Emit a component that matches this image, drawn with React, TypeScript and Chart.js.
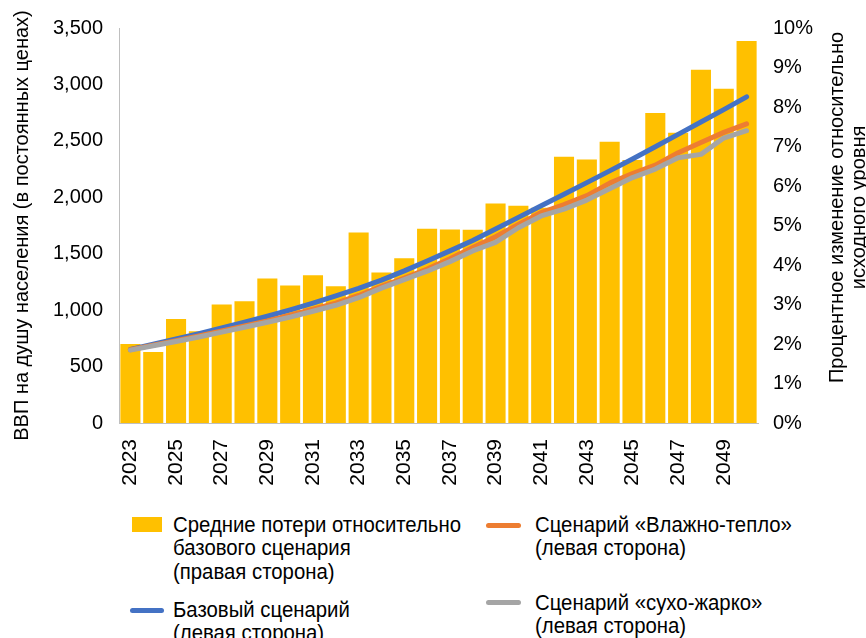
import React, { useEffect, useRef } from "react";
import { Chart, registerables } from "chart.js";

Chart.register(...registerables);

const years = [
  "2023", "2024", "2025", "2026", "2027", "2028", "2029", "2030", "2031", "2032",
  "2033", "2034", "2035", "2036", "2037", "2038", "2039", "2040", "2041", "2042",
  "2043", "2044", "2045", "2046", "2047", "2048", "2049", "2050",
];

// Average losses relative to baseline, % (right axis)
const avgLossPct = [
  2.0, 1.8, 2.63, 2.32, 3.0, 3.08, 3.66, 3.48, 3.74, 3.46,
  4.82, 3.81, 4.17, 4.92, 4.9, 4.89, 5.56, 5.5, 5.45, 6.74,
  6.67, 7.12, 6.66, 7.85, 7.35, 8.94, 8.46, 9.67,
];

// GDP per capita (left axis)
const baseScenario = [
  652, 698, 745, 792, 842, 893, 946, 1002, 1062, 1126,
  1193, 1266, 1348, 1436, 1525, 1617, 1718, 1822, 1925, 2027,
  2130, 2234, 2340, 2448, 2557, 2667, 2777, 2890,
];
const wetWarmScenario = [
  650, 690, 730, 772, 815, 860, 905, 955, 1008, 1062,
  1130, 1210, 1285, 1365, 1455, 1555, 1650, 1760, 1865, 1935,
  2015, 2125, 2210, 2285, 2395, 2485, 2575, 2650,
];
const dryHotScenario = [
  646, 685, 722, 762, 805, 848, 893, 938, 990, 1043,
  1110, 1195, 1270, 1345, 1430, 1525, 1600, 1730, 1835, 1895,
  1975, 2075, 2175, 2250, 2350, 2380, 2525, 2590,
];

const leftAxisTitle = "ВВП на душу населения (в постоянных ценах)";
const rightAxisTitle = ["Процентное изменение относительно", "исходного уровня"];

const legendBars = ["Средние потери относительно", "базового сценария", "(правая сторона)"];
const legendBase = ["Базовый сценарий", "(левая сторона)"];
const legendWet = ["Сценарий «Влажно-тепло»", "(левая сторона)"];
const legendDry = ["Сценарий «сухо-жарко»", "(левая сторона)"];

const COLORS = {
  bar: "#FFC000",
  base: "#4472C4",
  wet: "#ED7D31",
  dry: "#A5A5A5",
  axis: "#BFBFBF",
  text: "#000000",
};

const FONT_FAMILY = "'Liberation Sans', Arial, sans-serif";

const rightTitlePlugin = {
  id: "rightTitle",
  afterDraw(chart: any) {
    const ctx = chart.ctx;
    const cy = (chart.chartArea.top + chart.chartArea.bottom) / 2 - 18;
    ctx.save();
    ctx.font = `20px ${FONT_FAMILY}`;
    ctx.fillStyle = COLORS.text;
    ctx.textAlign = "center";
    ctx.textBaseline = "middle";
    ctx.translate(chart.width - 29, cy);
    ctx.rotate(-Math.PI / 2);
    rightAxisTitle.forEach((line, i) => {
      ctx.fillText(line, 0, i * 22);
    });
    ctx.restore();
  },
};

function LegendText({ lines, left, top }: { lines: string[]; left: number; top: number }) {
  return (
    <div
      style={{
        position: "absolute",
        left,
        top,
        fontFamily: FONT_FAMILY,
        fontSize: 22,
        lineHeight: "23.4px",
        color: COLORS.text,
        whiteSpace: "nowrap",
        transform: "scaleX(0.925)",
        transformOrigin: "left top",
      }}
    >
      {lines.map((l, i) => (
        <div key={i}>{l}</div>
      ))}
    </div>
  );
}

export default function App() {
  const canvasRef = useRef<HTMLCanvasElement | null>(null);

  useEffect(() => {
    if (!canvasRef.current) return;
    const tickFont = { family: FONT_FAMILY, size: 20 };
    const chart = new Chart(canvasRef.current, {
      type: "bar",
      data: {
        labels: years,
        datasets: [
          {
            type: "line",
            label: legendBase.join(" "),
            data: baseScenario,
            borderColor: COLORS.base,
            backgroundColor: COLORS.base,
            borderWidth: 5,
            pointRadius: 0,
            tension: 0,
            borderCapStyle: "round",
            borderJoinStyle: "round",
            yAxisID: "y",
            order: 3,
            fill: false,
          },
          {
            type: "line",
            label: legendWet.join(" "),
            data: wetWarmScenario,
            borderColor: COLORS.wet,
            backgroundColor: COLORS.wet,
            borderWidth: 5,
            pointRadius: 0,
            tension: 0,
            borderCapStyle: "round",
            borderJoinStyle: "round",
            yAxisID: "y",
            order: 2,
            fill: false,
          },
          {
            type: "line",
            label: legendDry.join(" "),
            data: dryHotScenario,
            borderColor: COLORS.dry,
            backgroundColor: COLORS.dry,
            borderWidth: 5,
            pointRadius: 0,
            tension: 0,
            borderCapStyle: "round",
            borderJoinStyle: "round",
            yAxisID: "y",
            order: 1,
            fill: false,
          },
          {
            type: "bar",
            label: legendBars.join(" "),
            data: avgLossPct,
            backgroundColor: COLORS.bar,
            borderWidth: 0,
            yAxisID: "y1",
            order: 4,
            categoryPercentage: 1.0,
            barPercentage: 0.88,
          },
        ],
      } as any,
      options: {
        responsive: false,
        animation: false,
        layout: { padding: { top: 16, left: 0, right: 0, bottom: 0 } },
        plugins: {
          legend: { display: false },
          tooltip: { enabled: false },
        },
        scales: {
          x: {
            grid: { display: false, drawTicks: false },
            border: { display: true, color: COLORS.axis, width: 1 },
            ticks: {
              autoSkip: false,
              maxRotation: 90,
              minRotation: 90,
              padding: 16,
              color: COLORS.text,
              font: { family: FONT_FAMILY, size: 21 },
              callback: (_v: any, i: number) => (i % 2 === 0 ? years[i] : ""),
            },
            afterFit: (s: any) => {
              s.height = 77;
            },
          },
          y: {
            position: "left",
            min: 0,
            max: 3500,
            grid: { display: false, drawTicks: false },
            border: { display: true, color: COLORS.axis, width: 1 },
            ticks: {
              stepSize: 500,
              padding: 16,
              color: COLORS.text,
              font: tickFont,
              callback: (v: any) => Number(v).toLocaleString("en-US"),
            },
            title: {
              display: true,
              text: leftAxisTitle,
              color: COLORS.text,
              font: { family: FONT_FAMILY, size: 20 },
              padding: { top: 10, bottom: 0 },
            },
            afterFit: (s: any) => {
              s.width = 119;
            },
          },
          y1: {
            position: "right",
            min: 0,
            max: 10,
            grid: { display: false, drawTicks: false },
            border: { display: false },
            ticks: {
              stepSize: 1,
              padding: 15,
              color: COLORS.text,
              font: tickFont,
              callback: (v: any) => `${v}%`,
            },
            afterFit: (s: any) => {
              s.width = 108;
            },
          },
        },
      } as any,
      plugins: [rightTitlePlugin],
    });
    return () => chart.destroy();
  }, []);

  return (
    <div
      style={{
        position: "absolute",
        left: 0,
        top: 0,
        width: 866,
        height: 638,
        background: "#ffffff",
        overflow: "hidden",
      }}
    >
      <canvas
        ref={canvasRef}
        width={866}
        height={500}
        style={{ position: "absolute", left: 0, top: 0, width: 866, height: 500 }}
      />
      {/* Legend */}
      <div style={{ position: "absolute", left: 132, top: 517, width: 30, height: 15, background: COLORS.bar }} />
      <LegendText lines={legendBars} left={173} top={513} />

      <div style={{ position: "absolute", left: 486, top: 522.5, width: 35, height: 5, borderRadius: 2.5, background: COLORS.wet }} />
      <LegendText lines={legendWet} left={535} top={513} />

      <div style={{ position: "absolute", left: 130, top: 607.5, width: 34, height: 5, borderRadius: 2.5, background: COLORS.base }} />
      <LegendText lines={legendBase} left={173} top={598} />

      <div style={{ position: "absolute", left: 486, top: 600, width: 35, height: 5, borderRadius: 2.5, background: COLORS.dry }} />
      <LegendText lines={legendDry} left={535} top={591} />
    </div>
  );
}
